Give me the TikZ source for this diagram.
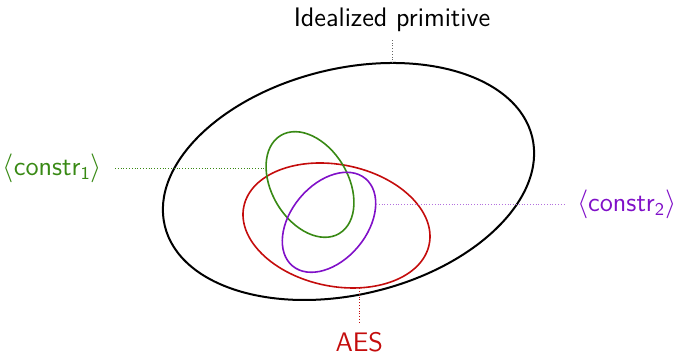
\documentclass[tikz,border=0pt]{standalone}
\usepackage{tikz}
\definecolor{cgreen}{RGB}{56,137,20}
\definecolor{cred}{RGB}{196,12,12}
\definecolor{cpurple}{RGB}{128,16,200}
\begin{document}
\begin{tikzpicture}[x=0.5pt,y=0.5pt,
  lbl/.style={font=\fontsize{13.4}{15}\selectfont\sffamily,inner sep=0pt},
  pointer/.style={densely dotted,line width=0.4pt}]
\useasboundingbox (0,0) rectangle (674,356);
% ellipses
\draw[line width=1pt,black,rotate around={13.6:(348.5,174.5)}] (348.5,174.5) ellipse [x radius=94.5pt,y radius=56.5pt];
\draw[line width=0.8pt,cred,rotate around={-11.5:(336.5,130.5)}] (336.5,130.5) ellipse [x radius=47.3pt,y radius=30.4pt];
\draw[line width=0.8pt,cgreen,rotate around={-59.2:(310,171.5)}] (310,171.5) ellipse [x radius=28.55pt,y radius=19.1pt];
\draw[line width=0.8pt,cpurple,rotate around={50.1:(329,133.7)}] (329,133.7) ellipse [x radius=28.45pt,y radius=19pt];
% points on ellipses
\coordinate (gpt) at (266,188);
\coordinate (ppt) at (376,151.7);
\coordinate (bpt) at (392,293);
\coordinate (rpt) at (359.3,67.7);
% labels
\node[lbl,anchor=base,text=black] (ideal) at (392,329) {Idealized primitive};
\node[lbl,anchor=base,text=cred] (aes) at (359.3,4) {AES};
\node[lbl,anchor=east,text=cgreen,outer sep=6.5pt] (c1) at (115,188) {$\langle$constr$_{\mathsf{1}}\rangle$};
\node[lbl,anchor=west,text=cpurple,outer sep=6pt] (c2) at (565,151.7) {$\langle$constr$_{\mathsf{2}}\rangle$};
% pointers
\draw[pointer,cgreen] (c1.east) -- (gpt);
\draw[pointer,cpurple!60] (ppt) -- (c2.west);
\draw[pointer,black!60] (bpt) -- ++(0,23) coordinate (itop);
\draw[pointer,cred] (rpt) -- ++(0,-35) coordinate (abot);
\end{tikzpicture}
\end{document}
